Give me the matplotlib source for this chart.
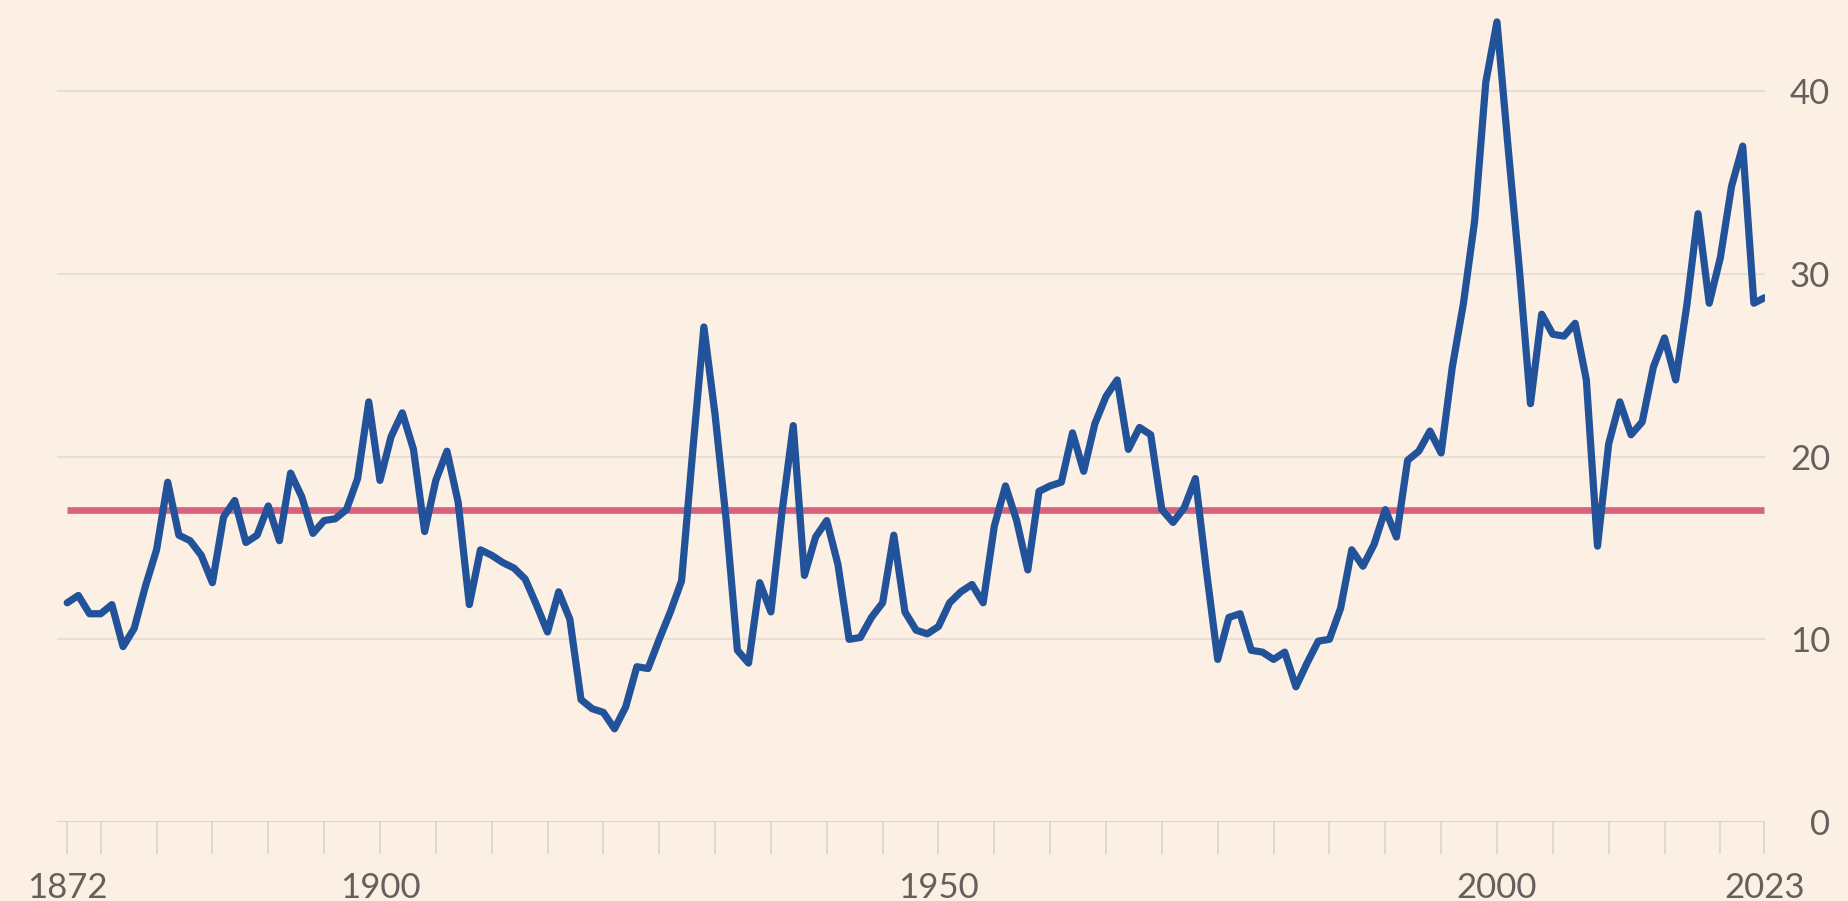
import numpy as np
import matplotlib
matplotlib.use('Agg')
import matplotlib.pyplot as plt

# Cyclically adjusted p/e ratio, January readings (last point = latest 2023 reading)
years = list(range(1872, 2024)) + [2023.95]
cape = [
    12.0, 12.4, 11.4, 11.4, 11.9, 9.6, 10.6, 12.9, 14.9, 18.6,   # 1872-1881
    15.7, 15.4, 14.6, 13.1, 16.7, 17.6, 15.3, 15.7, 17.3, 15.4,  # 1882-1891
    19.1, 17.8, 15.8, 16.5, 16.6, 17.1, 18.8, 23.0, 18.7, 21.1,  # 1892-1901
    22.4, 20.4, 15.9, 18.7, 20.3, 17.5, 11.9, 14.9, 14.6, 14.2,  # 1902-1911
    13.9, 13.3, 11.9, 10.4, 12.6, 11.1, 6.7, 6.2, 6.0, 5.1,      # 1912-1921
    6.3, 8.5, 8.4, 10.0, 11.5, 13.2, 20.3, 27.1, 22.3, 16.5,     # 1922-1931
    9.4, 8.7, 13.1, 11.5, 17.0, 21.7, 13.5, 15.6, 16.5, 14.1,    # 1932-1941
    10.0, 10.1, 11.2, 12.0, 15.7, 11.5, 10.5, 10.3, 10.7, 12.0,  # 1942-1951
    12.6, 13.0, 12.0, 16.2, 18.4, 16.5, 13.8, 18.1, 18.4, 18.6,  # 1952-1961
    21.3, 19.2, 21.8, 23.3, 24.2, 20.4, 21.6, 21.2, 17.1, 16.4,  # 1962-1971
    17.2, 18.8, 13.7, 8.9, 11.2, 11.4, 9.4, 9.3, 8.9, 9.3,       # 1972-1981
    7.4, 8.7, 9.9, 10.0, 11.7, 14.9, 14.0, 15.2, 17.1, 15.6,     # 1982-1991
    19.8, 20.3, 21.4, 20.2, 24.9, 28.4, 32.9, 40.5, 43.8, 36.9,  # 1992-2001
    30.3, 22.9, 27.8, 26.7, 26.6, 27.3, 24.2, 15.1, 20.7, 23.0,  # 2002-2011
    21.2, 21.9, 24.9, 26.5, 24.2, 28.3, 33.3, 28.4, 30.9, 34.8,  # 2012-2021
    37.0, 28.4, 28.7,                                            # 2022-2023
]
long_run_avg = 17.1

tick_years = [1872] + list(range(1875, 2021, 5)) + [2023.95]
labelled = {1872: '1872', 1900: '1900', 1950: '1950', 2000: '2000', 2023.95: '2023'}
y_ticks = [0, 10, 20, 30, 40]

bg = '#FCF0E4'
blue = '#22539A'
pink = '#D8617F'
grid_col = '#E8DED4'
text_col = '#66605C'

plt.rcParams['font.family'] = ['Lato', 'DejaVu Sans']

fig = plt.figure(figsize=(18.49, 9.01), dpi=100, facecolor=bg)
ax = fig.add_axes([0.0306, 0.0877, 0.9240, 0.9123])
ax.set_facecolor(bg)

for v in y_ticks[1:]:
    ax.axhline(v, color=grid_col, lw=1.5, zorder=1)
ax.axhline(0, color='#DDD4CB', lw=2.2, zorder=1)

ax.hlines(long_run_avg, years[0], years[-1], color=pink, lw=4.8, zorder=2)
ax.plot(years, cape, color=blue, lw=5.2, solid_joinstyle='round',
        solid_capstyle='round', zorder=3)

ax.set_xlim(1871.05, 2024.0)
ax.set_ylim(0, 45)

ax.set_xticks(tick_years)
ax.set_xticklabels([labelled.get(t, '') for t in tick_years])
ax.tick_params(axis='x', length=23, width=1.2, color='#DCD5CE', pad=13,
               labelsize=25, labelcolor=text_col)

ax.yaxis.tick_right()
ax.set_yticks(y_ticks)
ax.tick_params(axis='y', length=0, pad=47, labelsize=25, labelcolor=text_col)
for lab in ax.get_yticklabels():
    lab.set_horizontalalignment('right')

for s in ax.spines.values():
    s.set_visible(False)

fig.savefig('out.png', dpi=100, facecolor=bg)
